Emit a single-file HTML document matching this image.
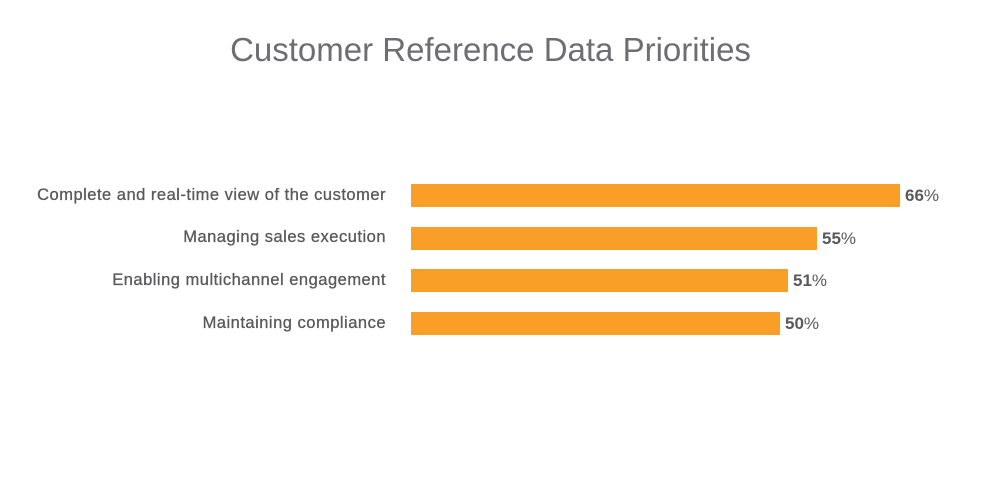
<!DOCTYPE html>
<html><head><style>
body{margin:0;background:#fff;width:981px;height:490px;position:relative;overflow:hidden;font-family:"Liberation Sans",sans-serif}
.t{position:absolute;left:0;width:981px;top:31px;text-align:center;font-size:33px;color:#6d6e71}
.l{position:absolute;right:595px;font-size:16.5px;letter-spacing:0.5px;color:#58595b;line-height:22px;white-space:nowrap;-webkit-text-stroke:0.3px #58595b}
.b{position:absolute;left:411px;height:23px;background:#f99f27}
.v{position:absolute;font-size:17px;color:#58595b;line-height:23px}
.v b{font-weight:bold}
</style></head><body>
<div class="t">Customer Reference Data Priorities</div>
<div class="l" style="top:184px">Complete and real-time view of the customer</div>
<div class="b" style="top:184px;width:489px"></div>
<div class="v" style="top:184px;left:905px"><b>66</b>%</div>
<div class="l" style="top:226px">Managing sales execution</div>
<div class="b" style="top:227px;width:406px"></div>
<div class="v" style="top:227px;left:822px"><b>55</b>%</div>
<div class="l" style="top:269px">Enabling multichannel engagement</div>
<div class="b" style="top:269px;width:377px"></div>
<div class="v" style="top:269px;left:793px"><b>51</b>%</div>
<div class="l" style="top:312px">Maintaining compliance</div>
<div class="b" style="top:312px;width:369px"></div>
<div class="v" style="top:312px;left:785px"><b>50</b>%</div>
</body></html>
